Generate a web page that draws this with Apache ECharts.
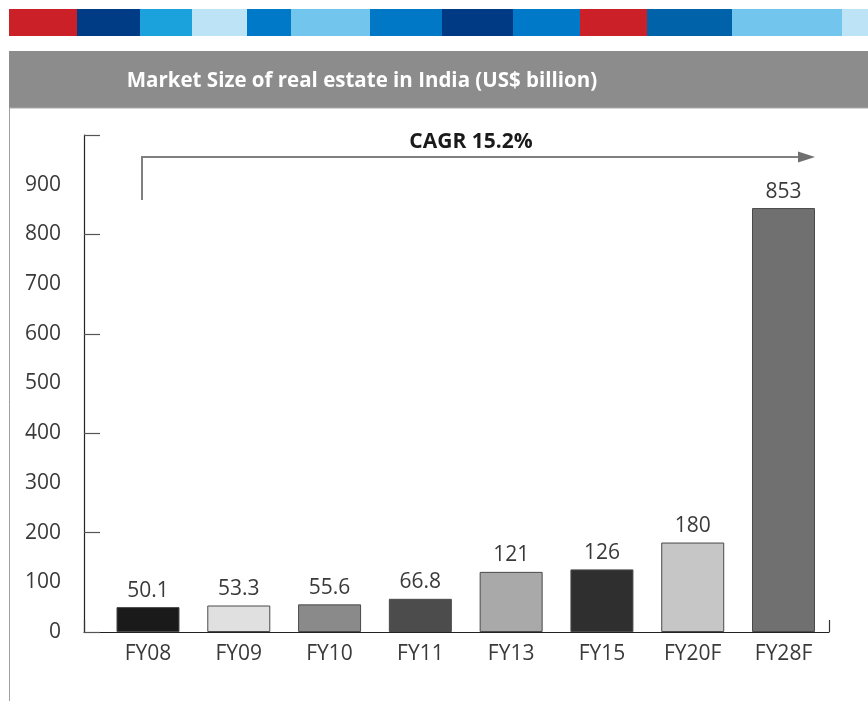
<!DOCTYPE html>
<html>
<head>
<meta charset="utf-8">
<script src="https://cdn.jsdelivr.net/npm/echarts@6/dist/echarts.min.js"></script>
<style>
html,body{margin:0;padding:0;background:#fff;}
#chart{width:868px;height:701px;}
</style>
</head>
<body>
<div id="chart"></div>
<script>
// ---- data ----
const categories = ['FY08', 'FY09', 'FY10', 'FY11', 'FY13', 'FY15', 'FY20F', 'FY28F'];
const values = [50.1, 53.3, 55.6, 66.8, 121, 126, 180, 853];
const yMin = 0;
const yMax = 1000;
const yLabelStep = 100;
const yTickStep = 200;
const titleText = 'Market Size of real estate in India (US$ billion)';
const cagrText = 'CAGR 15.2%';

// ---- styles ----
const barColors = ['#1a1a1a', '#e0e0e0', '#8a8a8a', '#4c4c4c', '#a9a9a9', '#2f2f2f', '#c6c6c6', '#707070'];
const stripSegments = [
  [9, 77, '#cb2027'], [77, 140, '#003b85'], [140, 192, '#1ba1dc'], [192, 247, '#bde3f6'],
  [247, 291, '#0079c8'], [291, 370, '#72c5ed'], [370, 442, '#0078c6'], [442, 513, '#003a84'],
  [513, 580, '#0079c8'], [580, 647, '#cb2027'], [647, 732, '#0062a9'], [732, 842, '#72c5ed'],
  [842, 868, '#bde3f6']
];
const FONT = '"Open Sans", "Noto Sans", sans-serif';

const chart = echarts.init(document.getElementById('chart'), null, {renderer: 'canvas'});

const graphics = stripSegments.map(s => ({
  type: 'rect', shape: {x: s[0], y: 9, width: s[1] - s[0], height: 27}, style: {fill: s[2]}, silent: true
}));
graphics.push(
  {type: 'rect', shape: {x: 9, y: 51, width: 859, height: 57}, style: {fill: '#8c8c8c'}, silent: true},
  {type: 'line', shape: {x1: 9, y1: 108, x2: 868, y2: 108}, style: {stroke: '#aaaaaa', lineWidth: 1}, silent: true},
  {type: 'line', shape: {x1: 9.5, y1: 108, x2: 9.5, y2: 701}, style: {stroke: '#a0a0a0', lineWidth: 1}, silent: true},
  {type: 'text', x: 362, y: 81, style: {text: titleText, fill: '#ffffff', font: 'bold 20.5px ' + FONT, align: 'center', verticalAlign: 'middle'}, silent: true},
  {type: 'text', x: 471, y: 142, style: {text: cagrText, fill: '#1a1a1a', font: 'bold 21px ' + FONT, align: 'center', verticalAlign: 'middle'}, silent: true},
  {type: 'polyline', shape: {points: [[142, 200], [142, 157], [800, 157]]}, style: {stroke: '#808080', lineWidth: 2, fill: null}, silent: true},
  {type: 'polygon', shape: {points: [[798, 151.5], [815, 157], [798, 162.5]]}, style: {fill: '#707070'}, silent: true}
);

const option = {
  backgroundColor: '#ffffff',
  animation: false,
  graphic: graphics,
  grid: [
    {left: 84, right: 39, top: 135, bottom: 69, containLabel: false},
    {left: 102.6, right: 39.1, top: 135, bottom: 69, containLabel: false}
  ],
  xAxis: [
    {
      type: 'value', gridIndex: 0, min: 0, max: 1, interval: 1,
      axisLine: {show: true, lineStyle: {color: '#222', width: 1.2}},
      axisTick: {show: true, inside: true, length: 12, lineStyle: {color: '#333', width: 1.2}},
      axisLabel: {show: false}, splitLine: {show: false}
    },
    {
      type: 'category', gridIndex: 1, data: categories,
      axisLine: {show: false}, axisTick: {show: false}, splitLine: {show: false},
      axisLabel: {show: true, color: '#3a3a3a', fontSize: 21, fontFamily: FONT, margin: 12, interval: 0}
    }
  ],
  yAxis: [
    {
      type: 'value', gridIndex: 0, min: yMin, max: yMax, interval: yTickStep, position: 'left',
      axisLine: {show: true, lineStyle: {color: '#222', width: 1.2}},
      axisTick: {show: true, inside: true, length: 16, lineStyle: {color: '#555', width: 1.2}},
      axisLabel: {show: false}, splitLine: {show: false}
    },
    {
      type: 'value', gridIndex: 0, min: yMin, max: yMax, interval: yLabelStep, position: 'left',
      axisLine: {show: false}, axisTick: {show: false}, splitLine: {show: false},
      axisLabel: {
        show: true, color: '#3a3a3a', fontSize: 21, fontFamily: FONT, margin: 23,
        formatter: v => (v >= yMax ? '' : String(v))
      }
    },
    {
      type: 'value', gridIndex: 1, min: yMin, max: yMax, show: false
    }
  ],
  series: [
    {
      type: 'bar', xAxisIndex: 1, yAxisIndex: 2, barWidth: 63,
      data: values.map((v, i) => ({
        value: v,
        itemStyle: {color: barColors[i], borderColor: '#4a4a4a', borderWidth: 1}
      })),
      label: {show: true, position: 'top', distance: 6, color: '#3a3a3a', fontSize: 21, fontFamily: FONT}
    }
  ]
};
chart.setOption(option);
</script>
</body>
</html>
